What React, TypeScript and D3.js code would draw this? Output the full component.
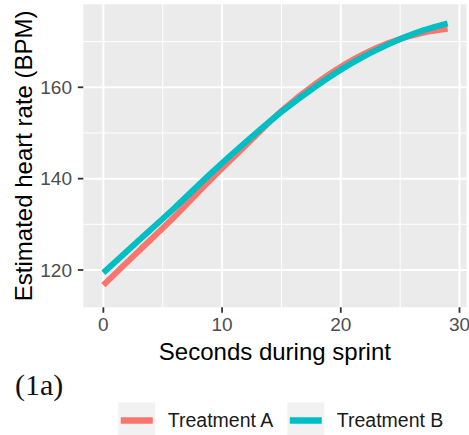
import React from "react";
import * as d3 from "d3";

const seconds = [0, 3, 6, 9, 12, 15, 18, 21, 24, 27, 29];
const treatmentA = [116.7, 124.2, 131.7, 139.7, 147.3, 154.8, 161.0, 166.0, 169.7, 172.0, 172.8];
const treatmentB = [119.4, 126.5, 133.6, 141.0, 148.0, 154.6, 160.4, 165.4, 169.4, 172.5, 174.0];
const seriesNames = ["Treatment A", "Treatment B"];
const seriesColors = ["#F8766D", "#00BFC4"];
const xMajor = [0, 10, 20, 30];
const xMinor = [5, 15, 25];
const yMajor = [120, 140, 160];
const yMinor = [130, 150, 170];

const W = 469;
const H = 435;
const P = { left: 83.3, right: 466.5, top: 4.3, bottom: 307.3 };
const FONT = "'Liberation Sans', Arial, sans-serif";

export default function App() {
  const x = d3.scaleLinear().domain([-1.69, 30.59]).range([P.left, P.right]);
  const y = d3.scaleLinear().domain([111.83, 178.17]).range([P.bottom, P.top]);
  const line = d3
    .line<[number, number]>()
    .x((d) => x(d[0]))
    .y((d) => y(d[1]))
    .curve(d3.curveMonotoneX);
  const series = [treatmentA, treatmentB].map((vals) =>
    seconds.map((s, i) => [s, vals[i]] as [number, number])
  );

  const legendKeys = [118.3, 287.3];
  const keyW = 37;

  return (
    <svg
      width={W}
      height={H}
      style={{ position: "absolute", left: 0, top: 0, background: "#fff" }}
    >
      <rect
        x={P.left}
        y={P.top}
        width={P.right - P.left}
        height={P.bottom - P.top}
        fill="#EBEBEB"
      />
      {xMinor.map((v) => (
        <line key={"xm" + v} x1={x(v)} x2={x(v)} y1={P.top} y2={P.bottom} stroke="#fff" strokeWidth={1} />
      ))}
      {yMinor.map((v) => (
        <line key={"ym" + v} x1={P.left} x2={P.right} y1={y(v)} y2={y(v)} stroke="#fff" strokeWidth={1} />
      ))}
      {xMajor.map((v) => (
        <line key={"xM" + v} x1={x(v)} x2={x(v)} y1={P.top} y2={P.bottom} stroke="#fff" strokeWidth={2} />
      ))}
      {yMajor.map((v) => (
        <line key={"yM" + v} x1={P.left} x2={P.right} y1={y(v)} y2={y(v)} stroke="#fff" strokeWidth={2} />
      ))}
      {series.map((s, i) => (
        <path
          key={i}
          d={line(s) || ""}
          fill="none"
          stroke={seriesColors[i]}
          strokeWidth={6}
          strokeLinecap="butt"
        />
      ))}
      {xMajor.map((v) => (
        <g key={"xt" + v}>
          <line x1={x(v)} x2={x(v)} y1={P.bottom} y2={P.bottom + 5.5} stroke="#333" strokeWidth={1.8} />
          <text
            x={x(v)}
            y={331}
            textAnchor="middle"
            fontFamily={FONT}
            fontSize={19}
            fill="#4D4D4D"
          >
            {v}
          </text>
        </g>
      ))}
      {yMajor.map((v) => (
        <g key={"yt" + v}>
          <line x1={P.left - 5.5} x2={P.left} y1={y(v)} y2={y(v)} stroke="#333" strokeWidth={1.8} />
          <text
            x={72}
            y={y(v)}
            dy="0.36em"
            textAnchor="end"
            fontFamily={FONT}
            fontSize={19}
            fill="#4D4D4D"
          >
            {v}
          </text>
        </g>
      ))}
      <text
        x={(P.left + P.right) / 2}
        y={360}
        textAnchor="middle"
        fontFamily={FONT}
        fontSize={24}
        fill="#000"
      >
        Seconds during sprint
      </text>
      <text
        transform={`translate(32,${(P.top + P.bottom) / 2}) rotate(-90)`}
        textAnchor="middle"
        fontFamily={FONT}
        fontSize={24}
        fill="#000"
      >
        Estimated heart rate (BPM)
      </text>
      <text
        x={15}
        y={395}
        fontFamily="'Liberation Serif', 'Times New Roman', serif"
        fontSize={30}
        fill="#111"
      >
        (1a)
      </text>
      {seriesNames.map((name, i) => (
        <g key={name}>
          <rect x={legendKeys[i]} y={402.5} width={keyW} height={40} fill="#F2F2F2" />
          <line
            x1={legendKeys[i] + 2.5}
            x2={legendKeys[i] + keyW - 2.5}
            y1={420.5}
            y2={420.5}
            stroke={seriesColors[i]}
            strokeWidth={6.5}
          />
          <text
            x={legendKeys[i] + keyW + 12.5}
            y={427}
            fontFamily={FONT}
            fontSize={19.5}
            fill="#1a1a1a"
          >
            {name}
          </text>
        </g>
      ))}
    </svg>
  );
}
